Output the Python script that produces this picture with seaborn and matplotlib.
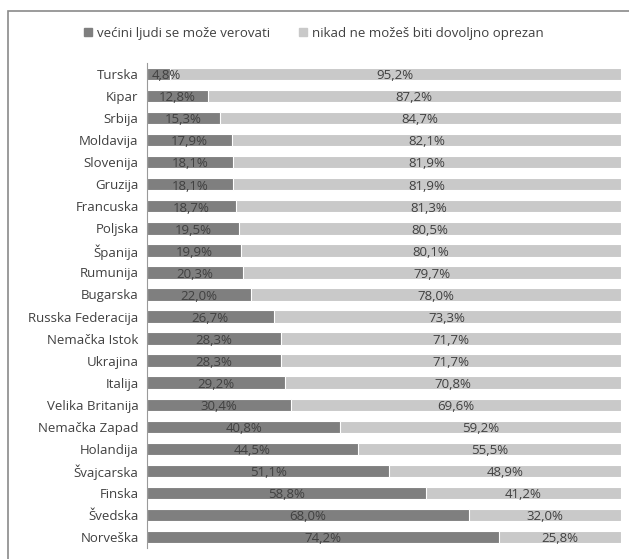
import pandas as pd
import matplotlib.pyplot as plt
import seaborn as sns
from matplotlib.patches import Rectangle

sns.set_theme(style="white")
plt.rcParams['font.family'] = ['Open Sans', 'DejaVu Sans']

countries = ['Turska', 'Kipar', 'Srbija', 'Moldavija', 'Slovenija', 'Gruzija', 'Francuska',
             'Poljska', 'Španija', 'Rumunija', 'Bugarska', 'Russka Federacija', 'Nemačka Istok',
             'Ukrajina', 'Italija', 'Velika Britanija', 'Nemačka Zapad', 'Holandija',
             'Švajcarska', 'Finska', 'Švedska', 'Norveška']
trust = [4.8, 12.8, 15.3, 17.9, 18.1, 18.1, 18.7, 19.5, 19.9, 20.3, 22.0, 26.7, 28.3,
         28.3, 29.2, 30.4, 40.8, 44.5, 51.1, 58.8, 68.0, 74.2]
careful = [95.2, 87.2, 84.7, 82.1, 81.9, 81.9, 81.3, 80.5, 80.1, 79.7, 78.0, 73.3, 71.7,
           71.7, 70.8, 69.6, 59.2, 55.5, 48.9, 41.2, 32.0, 25.8]
series = ['većini ljudi se može verovati', 'nikad ne možeš biti dovoljno oprezan']

DARK = '#7f7f7f'
LIGHT = '#c9c9c9'
TXT = '#404040'

df = pd.DataFrame({'country': countries, 'trust': trust, 'careful': careful})
df['total'] = df['trust'] + df['careful']

fig = plt.figure(figsize=(6.29, 5.59), dpi=100)
fig.patches.append(Rectangle((8 / 629, -0.05), 1.1, 1 - 11 / 559 + 0.05, transform=fig.transFigure,
                             fill=False, edgecolor='#8a8a8a', linewidth=1.2))
ax = fig.add_axes([147 / 629, 1 - 548 / 559, (621 - 147) / 629, (548 - 63) / 559])

sns.barplot(data=df, y='country', x='total', orient='h', color=LIGHT, saturation=1,
            width=0.56, edgecolor='white', linewidth=0.8, ax=ax)
sns.barplot(data=df, y='country', x='trust', orient='h', color=DARK, saturation=1,
            width=0.56, edgecolor='white', linewidth=0.8, ax=ax)

for i, (t, c) in enumerate(zip(trust, careful)):
    ax.text(t / 2 if t > 8 else 1.0, i + 0.08, f'{t:.1f}%'.replace('.', ','),
            ha='center' if t > 8 else 'left', va='center', fontsize=9.5, color=TXT)
    ax.text(t + c / 2, i + 0.08, f'{c:.1f}%'.replace('.', ','),
            ha='center', va='center', fontsize=9.5, color=TXT)

ax.set_xlim(0, 100)
ax.set_ylim(len(countries) - 0.5, -0.5)
ax.set_xlabel('')
ax.set_ylabel('')
ax.set_xticks([])
ax.tick_params(axis='y', length=0, pad=6, labelsize=9.5, labelcolor=TXT)
for s in ['top', 'right', 'bottom']:
    ax.spines[s].set_visible(False)
ax.spines['left'].set_color('#9a9a9a')
ax.spines['left'].set_linewidth(0.8)

handles = [Rectangle((0, 0), 1, 1, color=DARK), Rectangle((0, 0), 1, 1, color=LIGHT)]
fig.legend(handles, series, loc='center left', bbox_to_anchor=(72 / 629, 1 - 33 / 559),
           ncol=2, frameon=False, fontsize=9.5, handlelength=0.6, handleheight=0.6,
           handletextpad=0.4, columnspacing=2.2, labelcolor=TXT)

fig.savefig('out.png', dpi=100)
